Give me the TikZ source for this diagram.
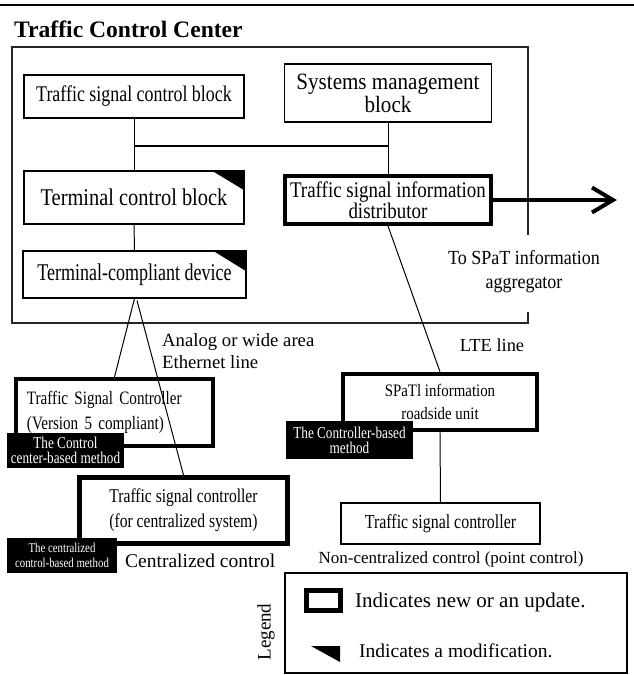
\documentclass[tikz,border=0pt]{standalone}
\usepackage{fontspec}
\setmainfont{Liberation Serif}
\newfontfamily\fA{Liberation Serif}[FakeStretch=0.75]
\newfontfamily\fB{Liberation Serif}[FakeStretch=0.8]
\newfontfamily\fC{Liberation Serif}[FakeStretch=0.85]
\newfontfamily\fD{Liberation Serif}[FakeStretch=0.9]
\usetikzlibrary{calc}
\newcommand\fsz[2]{\fontsize{#1}{#2}\selectfont}
\begin{document}
\begin{tikzpicture}[x=1pt,y=-1pt,
  box/.style={draw, line width=1.1pt, inner sep=0pt, align=center},
  blk/.style={fill=black, text=white, inner sep=0pt, align=center},
  wire/.style={line width=1pt},
  bus/.style={line width=2pt},
  free/.style={inner sep=0pt}
]
\useasboundingbox (0,0) rectangle (634,675);
% top rule and title
\draw[line width=2.5pt] (0,5) -- (634,5);
\node[free, anchor=base west, font=\bfseries\fsz{23.6}{28}] (title) at (14,37) {Traffic Control Center};
% outer frame with gap on the right
\draw[line width=1.1pt, black!85] (528,235) -- (528,47) -- (12,47) -- (12,323) -- (528,323) -- (528,312);

% boxes inside the center
\node[box, minimum width=220, minimum height=43, font=\fB\fsz{22.4}{24}] (tscb) at (134,96.5) {Traffic signal control block};
\node[box, minimum width=207, minimum height=58, font=\fD\fsz{23.4}{23}] (smb) at (388,93) {Systems management\\block};
\node[box, minimum width=220, minimum height=53, font=\fC\fsz{24}{26}] (tcb) at (134,197.5) {Terminal control block};
\node[box, minimum width=223, minimum height=47, font=\fA\fsz{24}{26}] (tcd) at (134.5,274.5) {Terminal-compliant device};
\node[box, line width=4pt, minimum width=206, minimum height=48, font=\fC\fsz{22.3}{20}] (tsid) at (388,200) {Traffic signal information\\distributor};

% modification marks
\fill ($(tcb.north east)+(-33,0)$) -- (tcb.north east) -- ($(tcb.north east)+(0,20)$) -- cycle;
\fill ($(tcd.north east)+(-34,0)$) -- (tcd.north east) -- ($(tcd.north east)+(0,21)$) -- cycle;

% internal connections
\coordinate (busy) at (0,146);
\draw[wire] (tscb.south) -- (tcb.north);
\draw[bus] (tscb.south |- busy) -- (smb.south |- busy);
\draw[wire] (smb.south) -- (smb.south |- tsid.north);
\draw[wire] (tcb.south) -- (tcd.north);

% arrow to aggregator
\coordinate (tip) at (613,200);
\draw[line width=4pt] (tsid.east) -- (tip);
\draw[line width=4pt, line join=miter] ($(tip)+(-21,-12.5)$) -- (tip) -- ($(tip)+(-21,12.5)$);
\node[free, anchor=base, font=\fD\fsz{20}{24}] (spatA) at (524,264) {To SPaT information};
\node[free, anchor=base, font=\fD\fsz{20}{24}] (spatB) at (524,288) {aggregator};

% line labels
\node[free, anchor=base west, font=\fsz{18.7}{22}] (anA) at (162,346) {Analog or wide area};
\node[free, anchor=base west, font=\fsz{18.7}{22}] (anB) at (162,368) {Ethernet line};
\node[free, anchor=base, font=\fsz{18.4}{22}] (lte) at (492,351) {LTE line};

% field devices
\node[box, line width=4pt, minimum width=197, minimum height=67, text width=175, inner xsep=11, align=left, font=\fB\fsz{18.9}{25}] (tscv) at (114.5,412.5) {Traffic Signal Controller\\(Version 5 compliant)};
\node[box, line width=5pt, minimum width=208, minimum height=66, font=\fB\fsz{19.5}{25}] (tscc) at (183.5,510.5) {Traffic signal controller\\(for centralized system)};
\node[box, line width=4.5pt, minimum width=194, minimum height=56, font=\fC\fsz{17.5}{23}] (rsu) at (440,402) {SPaTl information\\roadside unit};
\node[box, minimum width=199, minimum height=41, font=\fB\fsz{19.9}{24}] (ptsc) at (440.5,523.5) {Traffic signal controller};

% connectors to field devices
\draw[wire] (tcd.south) -- (tscv.north);
\draw[wire] ($(tcd.south)+(2.5,2)$) -- (tscc.north);
\draw[wire] (tsid.south) -- (rsu.north);
\draw[wire] (rsu.south) -- (ptsc.north);

% method labels
\node[blk, minimum width=117, minimum height=35, font=\fB\fsz{16.5}{15}] (lab1) at (65.5,450.5) {The Control\\center-based method};
\node[blk, minimum width=110, minimum height=35, font=\fB\fsz{13.5}{15}] (lab2) at (62,555.5) {The centralized\\control-based method};
\node[blk, minimum width=127, minimum height=38, font=\fB\fsz{16.5}{15}] (lab3) at (349.5,440) {The Controller-based\\method};

\node[free, anchor=base west, font=\fsz{19.5}{22}] (cc) at (125,567) {Centralized control};
\node[free, anchor=base, font=\fsz{17}{20}] (ncc) at (451,563) {Non-centralized control (point control)};

% legend
\node[box, minimum width=342, minimum height=100] (leg) at (456,623) {};
\node[free, rotate=90, font=\fsz{19}{20}] (legt) at (266,632) {Legend};
\node[draw, line width=5pt, minimum width=34, minimum height=20, inner sep=0pt] (icon1) at (323.5,600.5) {};
\node[free, anchor=base west, font=\fsz{21}{24}] (leg1) at (355,607) {Indicates new or an update.};
\fill (311,646) -- (340,646) -- (340,662) -- cycle;
\node[free, anchor=base west, font=\fsz{19.5}{24}] (leg2) at (359,657) {Indicates a modification.};
\end{tikzpicture}
\end{document}
